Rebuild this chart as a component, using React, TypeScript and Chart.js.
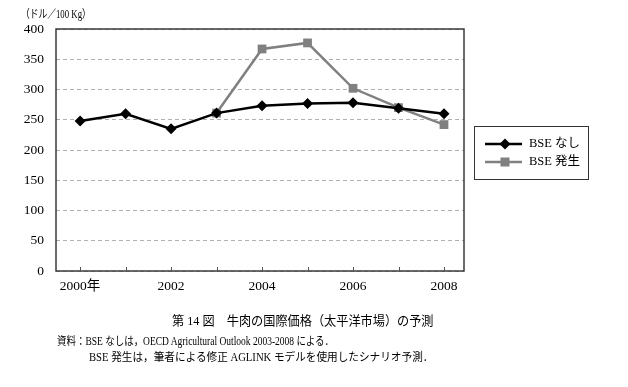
import React, { useEffect, useLayoutEffect, useRef } from "react";
import { Chart, registerables } from "chart.js";

Chart.register(...registerables);

const years = [2000, 2001, 2002, 2003, 2004, 2005, 2006, 2007, 2008];
const xTickLabels = ["2000年", "", "2002", "", "2004", "", "2006", "", "2008"];
const seriesNames = ["BSE なし", "BSE 発生"];
const bseNone = [248, 260, 235, 261, 273, 277, 278, 269, 260];
const bseOutbreak = [null, null, null, 261, 367, 377, 302, 270, 242];
const yMin = 0;
const yMax = 400;
const yStep = 50;
const unitLabel = "（ドル／100 Kg）";
const caption = "第 14 図　牛肉の国際価格（太平洋市場）の予測";
const note1 = "資料：BSE なしは，OECD Agricultural Outlook 2003-2008 による．";
const note2 = "BSE 発生は，筆者による修正 AGLINK モデルを使用したシナリオ予測．";

const FONT = '"Liberation Serif", "Noto Sans CJK JP", serif';

const toPoints = (vals: (number | null)[]) => years.map((yr, i) => ({ x: yr, y: vals[i] }));

const framePlugin = {
  id: "frame",
  beforeDatasetsDraw(chart: any) {
    const { ctx, chartArea } = chart;
    const xs = chart.scales.x;
    ctx.save();
    ctx.strokeStyle = "#3a3a3a";
    ctx.lineWidth = 1.5;
    ctx.strokeRect(chartArea.left, chartArea.top, chartArea.right - chartArea.left, chartArea.bottom - chartArea.top);
    ctx.lineWidth = 1;
    ctx.strokeStyle = "#555";
    years.forEach((yr) => {
      const x = Math.round(xs.getPixelForValue(yr)) + 0.5;
      ctx.beginPath();
      ctx.moveTo(x, chartArea.bottom);
      ctx.lineTo(x, chartArea.bottom - 4);
      ctx.stroke();
    });
    ctx.restore();
  },
};

const legendPlugin = {
  id: "boxLegend",
  afterDraw(chart: any) {
    const { ctx } = chart;
    const left = 474, top = 126, w = 114, h = 53;
    ctx.save();
    ctx.strokeStyle = "#333";
    ctx.lineWidth = 1;
    ctx.strokeRect(left + 0.5, top + 0.5, w, h);
    chart.data.datasets.forEach((ds: any, i: number) => {
      const y = top + 18 + i * 18;
      ctx.strokeStyle = ds.borderColor;
      ctx.lineWidth = 2.5;
      ctx.beginPath();
      ctx.moveTo(left + 11, y);
      ctx.lineTo(left + 48, y);
      ctx.stroke();
      ctx.fillStyle = ds.pointBackgroundColor;
      const cx = left + 31;
      if (ds.pointStyle === "rectRot") {
        ctx.beginPath();
        ctx.moveTo(cx, y - 5.5);
        ctx.lineTo(cx + 5.5, y);
        ctx.lineTo(cx, y + 5.5);
        ctx.lineTo(cx - 5.5, y);
        ctx.closePath();
        ctx.fill();
      } else {
        ctx.fillRect(cx - 4.5, y - 4.5, 9, 9);
      }
      ctx.fillStyle = "#000";
      ctx.font = `12.5px ${FONT}`;
      ctx.textBaseline = "middle";
      ctx.textAlign = "left";
      ctx.fillText(ds.label, left + 55, y);
    });
    ctx.restore();
  },
};

function FitText({ text, left, top, width, size }: { text: string; left: number; top: number; width: number; size: number }) {
  const ref = useRef<HTMLDivElement | null>(null);
  useLayoutEffect(() => {
    const el = ref.current;
    if (!el) return;
    el.style.transform = "none";
    const natural = el.scrollWidth;
    if (natural > 0) el.style.transform = `scaleX(${width / natural})`;
  }, [text, width]);
  return (
    <div
      ref={ref}
      style={{
        position: "absolute",
        left,
        top,
        fontSize: size,
        fontFamily: FONT,
        color: "#000",
        whiteSpace: "nowrap",
        lineHeight: 1,
        transformOrigin: "left top",
        display: "inline-block",
      }}
    >
      {text}
    </div>
  );
}

export default function App() {
  const ref = useRef<HTMLCanvasElement | null>(null);
  useEffect(() => {
    if (!ref.current) return;
    const chart = new Chart(ref.current, {
      type: "line",
      data: {
        datasets: [
          {
            label: seriesNames[0],
            data: toPoints(bseNone),
            borderColor: "#000000",
            backgroundColor: "#000000",
            pointBackgroundColor: "#000000",
            pointBorderColor: "#000000",
            borderWidth: 2.5,
            pointStyle: "rectRot",
            pointRadius: 5.5,
            pointBorderWidth: 0,
            tension: 0,
          },
          {
            label: seriesNames[1],
            data: toPoints(bseOutbreak),
            borderColor: "#808080",
            backgroundColor: "#808080",
            pointBackgroundColor: "#808080",
            pointBorderColor: "#808080",
            borderWidth: 2.5,
            pointStyle: "rect",
            pointRadius: 6.2,
            pointBorderWidth: 0,
            tension: 0,
            spanGaps: false,
          },
        ],
      },
      options: {
        responsive: false,
        animation: false,
        layout: { padding: { left: 0, top: 29, right: 164, bottom: 86 } },
        plugins: { legend: { display: false }, tooltip: { enabled: false } },
        scales: {
          x: {
            type: "linear",
            min: 1999.47,
            max: 2008.44,
            grid: { display: false, drawTicks: false },
            border: { display: false },
            afterBuildTicks: (s: any) => {
              s.ticks = years.map((yr) => ({ value: yr }));
            },
            ticks: {
              autoSkip: false,
              maxRotation: 0,
              padding: 7,
              color: "#000",
              font: { family: FONT, size: 13.5 },
              callback: (v: any) => {
                const i = years.indexOf(Math.round(Number(v)));
                return i >= 0 ? xTickLabels[i] : "";
              },
            },
            afterFit: (s: any) => { s.height = 30; },
          },
          y: {
            min: yMin,
            max: yMax,
            grid: { color: "#b0b0b0", lineWidth: 1, drawTicks: false },
            border: { display: false, dash: [4, 3] },
            ticks: {
              stepSize: yStep,
              padding: 12,
              color: "#000",
              font: { family: FONT, size: 13.5 },
            },
            afterFit: (s: any) => { s.width = 56; },
          },
        },
      },
      plugins: [framePlugin, legendPlugin],
    });
    return () => chart.destroy();
  }, []);

  return (
    <div style={{ position: "absolute", left: 0, top: 0, width: 628, height: 387, background: "#fff" }}>
      <canvas ref={ref} width={628} height={387} style={{ position: "absolute", left: 0, top: 0 }} />
      <FitText text={unitLabel} left={21} top={9} width={70} size={11.5} />
      <FitText text={caption} left={172} top={314} width={262} size={13} />
      <FitText text={note1} left={57} top={336} width={277} size={11.5} />
      <FitText text={note2} left={89} top={352} width={344} size={11.5} />
    </div>
  );
}
